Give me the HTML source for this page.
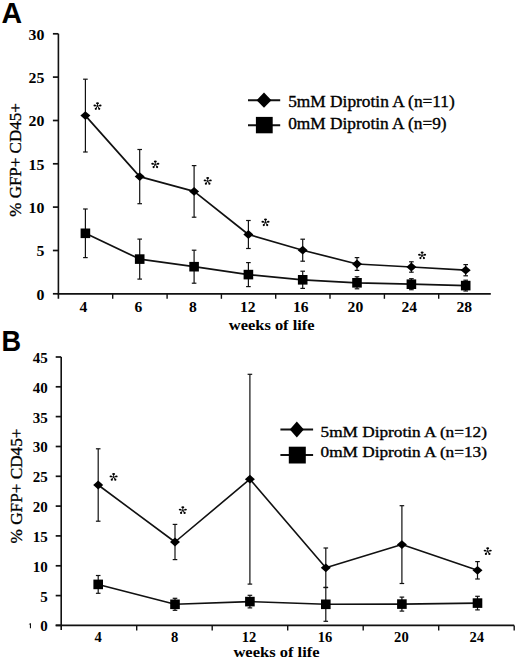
<!DOCTYPE html>
<html><head><meta charset="utf-8"><style>
html,body{margin:0;padding:0;background:#fff;}
svg{display:block;}
</style></head><body>
<svg width="520" height="662" viewBox="0 0 520 662">
<rect width="520" height="662" fill="#fff"/>
<line x1="58.4" y1="33.8" x2="58.4" y2="298.8" stroke="#111" stroke-width="1.6"/>
<line x1="57.6" y1="293.8" x2="490.8" y2="293.8" stroke="#111" stroke-width="1.8"/>
<line x1="52.9" y1="293.8" x2="58.4" y2="293.8" stroke="#111" stroke-width="1.7"/>
<text x="44.3" y="299.6" font-family="Liberation Serif" font-size="14.5" font-weight="bold" text-anchor="end" textLength="7.9" lengthAdjust="spacingAndGlyphs">0</text>
<line x1="52.9" y1="250.5" x2="58.4" y2="250.5" stroke="#111" stroke-width="1.7"/>
<text x="44.3" y="256.3" font-family="Liberation Serif" font-size="14.5" font-weight="bold" text-anchor="end" textLength="7.9" lengthAdjust="spacingAndGlyphs">5</text>
<line x1="52.9" y1="207.1" x2="58.4" y2="207.1" stroke="#111" stroke-width="1.7"/>
<text x="44.3" y="212.9" font-family="Liberation Serif" font-size="14.5" font-weight="bold" text-anchor="end" textLength="15.8" lengthAdjust="spacingAndGlyphs">10</text>
<line x1="52.9" y1="163.8" x2="58.4" y2="163.8" stroke="#111" stroke-width="1.7"/>
<text x="44.3" y="169.6" font-family="Liberation Serif" font-size="14.5" font-weight="bold" text-anchor="end" textLength="15.8" lengthAdjust="spacingAndGlyphs">15</text>
<line x1="52.9" y1="120.5" x2="58.4" y2="120.5" stroke="#111" stroke-width="1.7"/>
<text x="44.3" y="126.3" font-family="Liberation Serif" font-size="14.5" font-weight="bold" text-anchor="end" textLength="15.8" lengthAdjust="spacingAndGlyphs">20</text>
<line x1="52.9" y1="77.1" x2="58.4" y2="77.1" stroke="#111" stroke-width="1.7"/>
<text x="44.3" y="82.9" font-family="Liberation Serif" font-size="14.5" font-weight="bold" text-anchor="end" textLength="15.8" lengthAdjust="spacingAndGlyphs">25</text>
<line x1="52.9" y1="33.8" x2="58.4" y2="33.8" stroke="#111" stroke-width="1.7"/>
<text x="44.3" y="39.6" font-family="Liberation Serif" font-size="14.5" font-weight="bold" text-anchor="end" textLength="15.8" lengthAdjust="spacingAndGlyphs">30</text>
<line x1="112.7" y1="293.8" x2="112.7" y2="298.8" stroke="#111" stroke-width="1.4"/>
<line x1="167.1" y1="293.8" x2="167.1" y2="298.8" stroke="#111" stroke-width="1.4"/>
<line x1="221.4" y1="293.8" x2="221.4" y2="298.8" stroke="#111" stroke-width="1.4"/>
<line x1="275.7" y1="293.8" x2="275.7" y2="298.8" stroke="#111" stroke-width="1.4"/>
<line x1="330" y1="293.8" x2="330" y2="298.8" stroke="#111" stroke-width="1.4"/>
<line x1="384.4" y1="293.8" x2="384.4" y2="298.8" stroke="#111" stroke-width="1.4"/>
<line x1="438.7" y1="293.8" x2="438.7" y2="298.8" stroke="#111" stroke-width="1.4"/>
<text x="83.5" y="312.3" font-family="Liberation Serif" font-size="14.5" font-weight="bold" text-anchor="middle" textLength="7.8" lengthAdjust="spacingAndGlyphs">4</text>
<text x="138.5" y="312.3" font-family="Liberation Serif" font-size="14.5" font-weight="bold" text-anchor="middle" textLength="7.8" lengthAdjust="spacingAndGlyphs">6</text>
<text x="192.8" y="312.3" font-family="Liberation Serif" font-size="14.5" font-weight="bold" text-anchor="middle" textLength="7.8" lengthAdjust="spacingAndGlyphs">8</text>
<text x="247.7" y="312.3" font-family="Liberation Serif" font-size="14.5" font-weight="bold" text-anchor="middle" textLength="15.6" lengthAdjust="spacingAndGlyphs">12</text>
<text x="300.7" y="312.3" font-family="Liberation Serif" font-size="14.5" font-weight="bold" text-anchor="middle" textLength="15.6" lengthAdjust="spacingAndGlyphs">16</text>
<text x="355.4" y="312.3" font-family="Liberation Serif" font-size="14.5" font-weight="bold" text-anchor="middle" textLength="15.6" lengthAdjust="spacingAndGlyphs">20</text>
<text x="409.3" y="312.3" font-family="Liberation Serif" font-size="14.5" font-weight="bold" text-anchor="middle" textLength="15.6" lengthAdjust="spacingAndGlyphs">24</text>
<text x="464.3" y="312.3" font-family="Liberation Serif" font-size="14.5" font-weight="bold" text-anchor="middle" textLength="15.6" lengthAdjust="spacingAndGlyphs">28</text>
<text x="228.8" y="329.8" font-family="Liberation Serif" font-size="14.5" font-weight="bold" text-anchor="start" textLength="85.8" lengthAdjust="spacingAndGlyphs">weeks of life</text>
<text transform="translate(21.3,160) rotate(-90)" x="0" y="0" font-family="Liberation Serif" font-size="16" text-anchor="middle" textLength="113.4" lengthAdjust="spacingAndGlyphs" stroke="#000" stroke-width="0.3">% GFP+ CD45+</text>
<path d="M85.4 233.3 L139.7 259.1 L194.1 266.7 L248.4 274.6 L302.7 279.8 L357 282.8 L411.4 284.2 L465.7 285.6" fill="none" stroke="#111" stroke-width="1.7" stroke-linejoin="round"/>
<path d="M85.4 115.6 L139.7 176.6 L194.1 191.4 L248.4 234.5 L302.7 250.2 L357 264 L411.4 267 L465.7 270.2" fill="none" stroke="#111" stroke-width="1.7" stroke-linejoin="round"/>
<line x1="85.4" y1="209" x2="85.4" y2="257.6" stroke="#111" stroke-width="1.2"/>
<line x1="83.1" y1="209" x2="87.7" y2="209" stroke="#111" stroke-width="1.2"/>
<line x1="83.1" y1="257.6" x2="87.7" y2="257.6" stroke="#111" stroke-width="1.2"/>
<line x1="85.4" y1="79.2" x2="85.4" y2="152" stroke="#111" stroke-width="1.2"/>
<line x1="83.1" y1="79.2" x2="87.7" y2="79.2" stroke="#111" stroke-width="1.2"/>
<line x1="83.1" y1="152" x2="87.7" y2="152" stroke="#111" stroke-width="1.2"/>
<line x1="139.7" y1="239.1" x2="139.7" y2="279.1" stroke="#111" stroke-width="1.2"/>
<line x1="137.4" y1="239.1" x2="142" y2="239.1" stroke="#111" stroke-width="1.2"/>
<line x1="137.4" y1="279.1" x2="142" y2="279.1" stroke="#111" stroke-width="1.2"/>
<line x1="139.7" y1="149.5" x2="139.7" y2="203.7" stroke="#111" stroke-width="1.2"/>
<line x1="137.4" y1="149.5" x2="142" y2="149.5" stroke="#111" stroke-width="1.2"/>
<line x1="137.4" y1="203.7" x2="142" y2="203.7" stroke="#111" stroke-width="1.2"/>
<line x1="194.1" y1="250.2" x2="194.1" y2="283.2" stroke="#111" stroke-width="1.2"/>
<line x1="191.8" y1="250.2" x2="196.4" y2="250.2" stroke="#111" stroke-width="1.2"/>
<line x1="191.8" y1="283.2" x2="196.4" y2="283.2" stroke="#111" stroke-width="1.2"/>
<line x1="194.1" y1="165.6" x2="194.1" y2="217.2" stroke="#111" stroke-width="1.2"/>
<line x1="191.8" y1="165.6" x2="196.4" y2="165.6" stroke="#111" stroke-width="1.2"/>
<line x1="191.8" y1="217.2" x2="196.4" y2="217.2" stroke="#111" stroke-width="1.2"/>
<line x1="248.4" y1="262.6" x2="248.4" y2="286.6" stroke="#111" stroke-width="1.2"/>
<line x1="246.1" y1="262.6" x2="250.7" y2="262.6" stroke="#111" stroke-width="1.2"/>
<line x1="246.1" y1="286.6" x2="250.7" y2="286.6" stroke="#111" stroke-width="1.2"/>
<line x1="248.4" y1="220.5" x2="248.4" y2="248.5" stroke="#111" stroke-width="1.2"/>
<line x1="246.1" y1="220.5" x2="250.7" y2="220.5" stroke="#111" stroke-width="1.2"/>
<line x1="246.1" y1="248.5" x2="250.7" y2="248.5" stroke="#111" stroke-width="1.2"/>
<line x1="302.7" y1="271.2" x2="302.7" y2="288.4" stroke="#111" stroke-width="1.2"/>
<line x1="300.4" y1="271.2" x2="305" y2="271.2" stroke="#111" stroke-width="1.2"/>
<line x1="300.4" y1="288.4" x2="305" y2="288.4" stroke="#111" stroke-width="1.2"/>
<line x1="302.7" y1="239.2" x2="302.7" y2="261.2" stroke="#111" stroke-width="1.2"/>
<line x1="300.4" y1="239.2" x2="305" y2="239.2" stroke="#111" stroke-width="1.2"/>
<line x1="300.4" y1="261.2" x2="305" y2="261.2" stroke="#111" stroke-width="1.2"/>
<line x1="357" y1="276.8" x2="357" y2="288.8" stroke="#111" stroke-width="1.2"/>
<line x1="354.7" y1="276.8" x2="359.3" y2="276.8" stroke="#111" stroke-width="1.2"/>
<line x1="354.7" y1="288.8" x2="359.3" y2="288.8" stroke="#111" stroke-width="1.2"/>
<line x1="357" y1="257.6" x2="357" y2="270.4" stroke="#111" stroke-width="1.2"/>
<line x1="354.7" y1="257.6" x2="359.3" y2="257.6" stroke="#111" stroke-width="1.2"/>
<line x1="354.7" y1="270.4" x2="359.3" y2="270.4" stroke="#111" stroke-width="1.2"/>
<line x1="411.4" y1="278.7" x2="411.4" y2="289.7" stroke="#111" stroke-width="1.2"/>
<line x1="409.1" y1="278.7" x2="413.7" y2="278.7" stroke="#111" stroke-width="1.2"/>
<line x1="409.1" y1="289.7" x2="413.7" y2="289.7" stroke="#111" stroke-width="1.2"/>
<line x1="411.4" y1="261.8" x2="411.4" y2="272.2" stroke="#111" stroke-width="1.2"/>
<line x1="409.1" y1="261.8" x2="413.7" y2="261.8" stroke="#111" stroke-width="1.2"/>
<line x1="409.1" y1="272.2" x2="413.7" y2="272.2" stroke="#111" stroke-width="1.2"/>
<line x1="465.7" y1="280.2" x2="465.7" y2="291" stroke="#111" stroke-width="1.2"/>
<line x1="463.4" y1="280.2" x2="468" y2="280.2" stroke="#111" stroke-width="1.2"/>
<line x1="463.4" y1="291" x2="468" y2="291" stroke="#111" stroke-width="1.2"/>
<line x1="465.7" y1="264.6" x2="465.7" y2="275.8" stroke="#111" stroke-width="1.2"/>
<line x1="463.4" y1="264.6" x2="468" y2="264.6" stroke="#111" stroke-width="1.2"/>
<line x1="463.4" y1="275.8" x2="468" y2="275.8" stroke="#111" stroke-width="1.2"/>
<rect x="80.6" y="228.5" width="9.6" height="9.6" fill="#000"/>
<path d="M85.4 111.2L90.4 115.6L85.4 120L80.4 115.6Z" fill="#000"/>
<rect x="134.9" y="254.3" width="9.6" height="9.6" fill="#000"/>
<path d="M139.7 172.2L144.7 176.6L139.7 181L134.7 176.6Z" fill="#000"/>
<rect x="189.3" y="261.9" width="9.6" height="9.6" fill="#000"/>
<path d="M194.1 187L199.1 191.4L194.1 195.8L189.1 191.4Z" fill="#000"/>
<rect x="243.6" y="269.8" width="9.6" height="9.6" fill="#000"/>
<path d="M248.4 230.1L253.4 234.5L248.4 238.9L243.4 234.5Z" fill="#000"/>
<rect x="297.9" y="275" width="9.6" height="9.6" fill="#000"/>
<path d="M302.7 245.8L307.7 250.2L302.7 254.6L297.7 250.2Z" fill="#000"/>
<rect x="352.2" y="278" width="9.6" height="9.6" fill="#000"/>
<path d="M357 259.6L362 264L357 268.4L352 264Z" fill="#000"/>
<rect x="406.6" y="279.4" width="9.6" height="9.6" fill="#000"/>
<path d="M411.4 262.6L416.4 267L411.4 271.4L406.4 267Z" fill="#000"/>
<rect x="460.9" y="280.8" width="9.6" height="9.6" fill="#000"/>
<path d="M465.7 265.8L470.7 270.2L465.7 274.6L460.7 270.2Z" fill="#000"/>
<path d="M97.5 106.2l0 -3.1M97.5 106.2l-2.8 -0.8M97.5 106.2l2.8 -0.8M97.5 106.2l-1.8 2.5M97.5 106.2l1.8 2.5" stroke="#000" stroke-width="0.9" fill="none"/>
<ellipse cx="97.5" cy="103.2" rx="1.5" ry="1.0" fill="#000"/>
<ellipse cx="94.7" cy="105.5" rx="1.25" ry="0.95" fill="#000"/>
<ellipse cx="100.3" cy="105.5" rx="1.25" ry="0.95" fill="#000"/>
<ellipse cx="95.8" cy="108.8" rx="1.1" ry="1.1" fill="#000"/>
<ellipse cx="99.2" cy="108.8" rx="1.1" ry="1.1" fill="#000"/>
<path d="M155.3 164.5l0 -3.1M155.3 164.5l-2.8 -0.8M155.3 164.5l2.8 -0.8M155.3 164.5l-1.8 2.5M155.3 164.5l1.8 2.5" stroke="#000" stroke-width="0.9" fill="none"/>
<ellipse cx="155.3" cy="161.4" rx="1.5" ry="1.0" fill="#000"/>
<ellipse cx="152.5" cy="163.8" rx="1.25" ry="0.95" fill="#000"/>
<ellipse cx="158.1" cy="163.8" rx="1.25" ry="0.95" fill="#000"/>
<ellipse cx="153.6" cy="167.1" rx="1.1" ry="1.1" fill="#000"/>
<ellipse cx="157.1" cy="167.1" rx="1.1" ry="1.1" fill="#000"/>
<path d="M207.7 181.2l0 -3.1M207.7 181.2l-2.8 -0.8M207.7 181.2l2.8 -0.8M207.7 181.2l-1.8 2.5M207.7 181.2l1.8 2.5" stroke="#000" stroke-width="0.9" fill="none"/>
<ellipse cx="207.7" cy="178.1" rx="1.5" ry="1.0" fill="#000"/>
<ellipse cx="204.9" cy="180.4" rx="1.25" ry="0.95" fill="#000"/>
<ellipse cx="210.5" cy="180.4" rx="1.25" ry="0.95" fill="#000"/>
<ellipse cx="205.9" cy="183.7" rx="1.1" ry="1.1" fill="#000"/>
<ellipse cx="209.4" cy="183.7" rx="1.1" ry="1.1" fill="#000"/>
<path d="M265.5 222.5l0 -3.1M265.5 222.5l-2.8 -0.8M265.5 222.5l2.8 -0.8M265.5 222.5l-1.8 2.5M265.5 222.5l1.8 2.5" stroke="#000" stroke-width="0.9" fill="none"/>
<ellipse cx="265.5" cy="219.4" rx="1.5" ry="1.0" fill="#000"/>
<ellipse cx="262.7" cy="221.8" rx="1.25" ry="0.95" fill="#000"/>
<ellipse cx="268.3" cy="221.8" rx="1.25" ry="0.95" fill="#000"/>
<ellipse cx="263.8" cy="225.1" rx="1.1" ry="1.1" fill="#000"/>
<ellipse cx="267.2" cy="225.1" rx="1.1" ry="1.1" fill="#000"/>
<path d="M422.1 255.5l0 -3.1M422.1 255.5l-2.8 -0.8M422.1 255.5l2.8 -0.8M422.1 255.5l-1.8 2.5M422.1 255.5l1.8 2.5" stroke="#000" stroke-width="0.9" fill="none"/>
<ellipse cx="422.1" cy="252.4" rx="1.5" ry="1.0" fill="#000"/>
<ellipse cx="419.3" cy="254.8" rx="1.25" ry="0.95" fill="#000"/>
<ellipse cx="424.9" cy="254.8" rx="1.25" ry="0.95" fill="#000"/>
<ellipse cx="420.4" cy="258.1" rx="1.1" ry="1.1" fill="#000"/>
<ellipse cx="423.9" cy="258.1" rx="1.1" ry="1.1" fill="#000"/>
<line x1="248" y1="100.2" x2="280.2" y2="100.2" stroke="#111" stroke-width="2"/>
<path d="M264 92.6L271.4 100.2L264 107.8L256.6 100.2Z" fill="#000"/>
<line x1="248" y1="125.2" x2="280.2" y2="125.2" stroke="#111" stroke-width="2"/>
<rect x="255.9" y="116.9" width="16.8" height="16.4" fill="#000"/>
<text x="288.2" y="107.1" font-family="Liberation Serif" font-size="16" font-weight="normal" text-anchor="start" textLength="166.6" lengthAdjust="spacingAndGlyphs" stroke="#000" stroke-width="0.35">5mM Diprotin A (n=11)</text>
<text x="288.2" y="128.5" font-family="Liberation Serif" font-size="16" font-weight="normal" text-anchor="start" textLength="158.4" lengthAdjust="spacingAndGlyphs" stroke="#000" stroke-width="0.35">0mM Diprotin A (n=9)</text>
<text x="1.6" y="23.2" font-family="Liberation Sans" font-size="30" font-weight="bold" text-anchor="start" textLength="20.6" lengthAdjust="spacingAndGlyphs">A</text>
<line x1="61.2" y1="357" x2="61.2" y2="629.9" stroke="#111" stroke-width="1.6"/>
<line x1="55.7" y1="625.4" x2="514.2" y2="625.4" stroke="#111" stroke-width="1.8"/>
<line x1="514.2" y1="625.4" x2="514.2" y2="630.4" stroke="#111" stroke-width="1.4"/>
<line x1="55.7" y1="625.4" x2="61.2" y2="625.4" stroke="#111" stroke-width="1.7"/>
<text x="47.8" y="631.3" font-family="Liberation Serif" font-size="14" font-weight="bold" text-anchor="end" textLength="7.5" lengthAdjust="spacingAndGlyphs">0</text>
<line x1="55.7" y1="595.6" x2="61.2" y2="595.6" stroke="#111" stroke-width="1.7"/>
<text x="47.8" y="601.5" font-family="Liberation Serif" font-size="14" font-weight="bold" text-anchor="end" textLength="7.5" lengthAdjust="spacingAndGlyphs">5</text>
<line x1="55.7" y1="565.8" x2="61.2" y2="565.8" stroke="#111" stroke-width="1.7"/>
<text x="47.8" y="571.7" font-family="Liberation Serif" font-size="14" font-weight="bold" text-anchor="end" textLength="15" lengthAdjust="spacingAndGlyphs">10</text>
<line x1="55.7" y1="535.9" x2="61.2" y2="535.9" stroke="#111" stroke-width="1.7"/>
<text x="47.8" y="541.8" font-family="Liberation Serif" font-size="14" font-weight="bold" text-anchor="end" textLength="15" lengthAdjust="spacingAndGlyphs">15</text>
<line x1="55.7" y1="506.1" x2="61.2" y2="506.1" stroke="#111" stroke-width="1.7"/>
<text x="47.8" y="512" font-family="Liberation Serif" font-size="14" font-weight="bold" text-anchor="end" textLength="15" lengthAdjust="spacingAndGlyphs">20</text>
<line x1="55.7" y1="476.3" x2="61.2" y2="476.3" stroke="#111" stroke-width="1.7"/>
<text x="47.8" y="482.2" font-family="Liberation Serif" font-size="14" font-weight="bold" text-anchor="end" textLength="15" lengthAdjust="spacingAndGlyphs">25</text>
<line x1="55.7" y1="446.5" x2="61.2" y2="446.5" stroke="#111" stroke-width="1.7"/>
<text x="47.8" y="452.4" font-family="Liberation Serif" font-size="14" font-weight="bold" text-anchor="end" textLength="15" lengthAdjust="spacingAndGlyphs">30</text>
<line x1="55.7" y1="416.6" x2="61.2" y2="416.6" stroke="#111" stroke-width="1.7"/>
<text x="47.8" y="422.5" font-family="Liberation Serif" font-size="14" font-weight="bold" text-anchor="end" textLength="15" lengthAdjust="spacingAndGlyphs">35</text>
<line x1="55.7" y1="386.8" x2="61.2" y2="386.8" stroke="#111" stroke-width="1.7"/>
<text x="47.8" y="392.7" font-family="Liberation Serif" font-size="14" font-weight="bold" text-anchor="end" textLength="15" lengthAdjust="spacingAndGlyphs">40</text>
<line x1="55.7" y1="357" x2="61.2" y2="357" stroke="#111" stroke-width="1.7"/>
<text x="47.8" y="362.9" font-family="Liberation Serif" font-size="14" font-weight="bold" text-anchor="end" textLength="15" lengthAdjust="spacingAndGlyphs">45</text>
<line x1="136.7" y1="625.4" x2="136.7" y2="630.4" stroke="#111" stroke-width="1.4"/>
<line x1="212.2" y1="625.4" x2="212.2" y2="630.4" stroke="#111" stroke-width="1.4"/>
<line x1="287.7" y1="625.4" x2="287.7" y2="630.4" stroke="#111" stroke-width="1.4"/>
<line x1="363.2" y1="625.4" x2="363.2" y2="630.4" stroke="#111" stroke-width="1.4"/>
<line x1="438.7" y1="625.4" x2="438.7" y2="630.4" stroke="#111" stroke-width="1.4"/>
<text x="98.2" y="642.2" font-family="Liberation Serif" font-size="14.5" font-weight="bold" text-anchor="middle" textLength="7.3" lengthAdjust="spacingAndGlyphs">4</text>
<text x="174.6" y="642.2" font-family="Liberation Serif" font-size="14.5" font-weight="bold" text-anchor="middle" textLength="7.3" lengthAdjust="spacingAndGlyphs">8</text>
<text x="249" y="642.2" font-family="Liberation Serif" font-size="14.5" font-weight="bold" text-anchor="middle" textLength="14.6" lengthAdjust="spacingAndGlyphs">12</text>
<text x="325" y="642.2" font-family="Liberation Serif" font-size="14.5" font-weight="bold" text-anchor="middle" textLength="14.6" lengthAdjust="spacingAndGlyphs">16</text>
<text x="401.4" y="642.2" font-family="Liberation Serif" font-size="14.5" font-weight="bold" text-anchor="middle" textLength="14.6" lengthAdjust="spacingAndGlyphs">20</text>
<text x="476.7" y="642.2" font-family="Liberation Serif" font-size="14.5" font-weight="bold" text-anchor="middle" textLength="14.6" lengthAdjust="spacingAndGlyphs">24</text>
<text x="233.4" y="657.4" font-family="Liberation Serif" font-size="14.5" font-weight="bold" text-anchor="start" textLength="86.2" lengthAdjust="spacingAndGlyphs">weeks of life</text>
<text transform="translate(22.3,486) rotate(-90)" x="0" y="0" font-family="Liberation Serif" font-size="16" text-anchor="middle" textLength="114.8" lengthAdjust="spacingAndGlyphs" stroke="#000" stroke-width="0.3">% GFP+ CD45+</text>
<path d="M98.2 584.4 L175 604.3 L249.9 601.6 L325.8 604.3 L401.9 604.1 L477.5 603.1" fill="none" stroke="#111" stroke-width="1.6" stroke-linejoin="round"/>
<path d="M98.2 485 L175 542 L249.9 479.2 L325.8 567.8 L401.9 544.6 L477.5 570.3" fill="none" stroke="#111" stroke-width="1.6" stroke-linejoin="round"/>
<line x1="98.2" y1="575.5" x2="98.2" y2="593.3" stroke="#111" stroke-width="1.2"/>
<line x1="95.9" y1="575.5" x2="100.5" y2="575.5" stroke="#111" stroke-width="1.2"/>
<line x1="95.9" y1="593.3" x2="100.5" y2="593.3" stroke="#111" stroke-width="1.2"/>
<line x1="98.2" y1="448.8" x2="98.2" y2="521.2" stroke="#111" stroke-width="1.2"/>
<line x1="95.9" y1="448.8" x2="100.5" y2="448.8" stroke="#111" stroke-width="1.2"/>
<line x1="95.9" y1="521.2" x2="100.5" y2="521.2" stroke="#111" stroke-width="1.2"/>
<line x1="175" y1="598.3" x2="175" y2="610.3" stroke="#111" stroke-width="1.2"/>
<line x1="172.7" y1="598.3" x2="177.3" y2="598.3" stroke="#111" stroke-width="1.2"/>
<line x1="172.7" y1="610.3" x2="177.3" y2="610.3" stroke="#111" stroke-width="1.2"/>
<line x1="175" y1="524.4" x2="175" y2="559.6" stroke="#111" stroke-width="1.2"/>
<line x1="172.7" y1="524.4" x2="177.3" y2="524.4" stroke="#111" stroke-width="1.2"/>
<line x1="172.7" y1="559.6" x2="177.3" y2="559.6" stroke="#111" stroke-width="1.2"/>
<line x1="249.9" y1="595.3" x2="249.9" y2="607.9" stroke="#111" stroke-width="1.2"/>
<line x1="247.6" y1="595.3" x2="252.2" y2="595.3" stroke="#111" stroke-width="1.2"/>
<line x1="247.6" y1="607.9" x2="252.2" y2="607.9" stroke="#111" stroke-width="1.2"/>
<line x1="249.9" y1="374.3" x2="249.9" y2="584.1" stroke="#111" stroke-width="1.2"/>
<line x1="247.6" y1="374.3" x2="252.2" y2="374.3" stroke="#111" stroke-width="1.2"/>
<line x1="247.6" y1="584.1" x2="252.2" y2="584.1" stroke="#111" stroke-width="1.2"/>
<line x1="325.8" y1="587.3" x2="325.8" y2="621.3" stroke="#111" stroke-width="1.2"/>
<line x1="323.5" y1="587.3" x2="328.1" y2="587.3" stroke="#111" stroke-width="1.2"/>
<line x1="323.5" y1="621.3" x2="328.1" y2="621.3" stroke="#111" stroke-width="1.2"/>
<line x1="325.8" y1="548" x2="325.8" y2="587.6" stroke="#111" stroke-width="1.2"/>
<line x1="323.5" y1="548" x2="328.1" y2="548" stroke="#111" stroke-width="1.2"/>
<line x1="323.5" y1="587.6" x2="328.1" y2="587.6" stroke="#111" stroke-width="1.2"/>
<line x1="401.9" y1="597.1" x2="401.9" y2="611.1" stroke="#111" stroke-width="1.2"/>
<line x1="399.6" y1="597.1" x2="404.2" y2="597.1" stroke="#111" stroke-width="1.2"/>
<line x1="399.6" y1="611.1" x2="404.2" y2="611.1" stroke="#111" stroke-width="1.2"/>
<line x1="401.9" y1="505.7" x2="401.9" y2="583.5" stroke="#111" stroke-width="1.2"/>
<line x1="399.6" y1="505.7" x2="404.2" y2="505.7" stroke="#111" stroke-width="1.2"/>
<line x1="399.6" y1="583.5" x2="404.2" y2="583.5" stroke="#111" stroke-width="1.2"/>
<line x1="477.5" y1="596.3" x2="477.5" y2="609.9" stroke="#111" stroke-width="1.2"/>
<line x1="475.2" y1="596.3" x2="479.8" y2="596.3" stroke="#111" stroke-width="1.2"/>
<line x1="475.2" y1="609.9" x2="479.8" y2="609.9" stroke="#111" stroke-width="1.2"/>
<line x1="477.5" y1="561.6" x2="477.5" y2="579" stroke="#111" stroke-width="1.2"/>
<line x1="475.2" y1="561.6" x2="479.8" y2="561.6" stroke="#111" stroke-width="1.2"/>
<line x1="475.2" y1="579" x2="479.8" y2="579" stroke="#111" stroke-width="1.2"/>
<rect x="93.4" y="579.6" width="9.6" height="9.6" fill="#000"/>
<path d="M98.2 480.6L103.2 485L98.2 489.4L93.2 485Z" fill="#000"/>
<rect x="170.2" y="599.5" width="9.6" height="9.6" fill="#000"/>
<path d="M175 537.6L180 542L175 546.4L170 542Z" fill="#000"/>
<rect x="245.1" y="596.8" width="9.6" height="9.6" fill="#000"/>
<path d="M249.9 474.8L254.9 479.2L249.9 483.6L244.9 479.2Z" fill="#000"/>
<rect x="321" y="599.5" width="9.6" height="9.6" fill="#000"/>
<path d="M325.8 563.4L330.8 567.8L325.8 572.2L320.8 567.8Z" fill="#000"/>
<rect x="397.1" y="599.3" width="9.6" height="9.6" fill="#000"/>
<path d="M401.9 540.2L406.9 544.6L401.9 549L396.9 544.6Z" fill="#000"/>
<rect x="472.7" y="598.3" width="9.6" height="9.6" fill="#000"/>
<path d="M477.5 565.9L482.5 570.3L477.5 574.7L472.5 570.3Z" fill="#000"/>
<path d="M113.6 477.2l0 -3.1M113.6 477.2l-2.8 -0.8M113.6 477.2l2.8 -0.8M113.6 477.2l-1.8 2.5M113.6 477.2l1.8 2.5" stroke="#000" stroke-width="0.9" fill="none"/>
<ellipse cx="113.6" cy="474.1" rx="1.5" ry="1.0" fill="#000"/>
<ellipse cx="110.8" cy="476.4" rx="1.25" ry="0.95" fill="#000"/>
<ellipse cx="116.4" cy="476.4" rx="1.25" ry="0.95" fill="#000"/>
<ellipse cx="111.8" cy="479.7" rx="1.1" ry="1.1" fill="#000"/>
<ellipse cx="115.3" cy="479.7" rx="1.1" ry="1.1" fill="#000"/>
<path d="M182.8 510.4l0 -3.1M182.8 510.4l-2.8 -0.8M182.8 510.4l2.8 -0.8M182.8 510.4l-1.8 2.5M182.8 510.4l1.8 2.5" stroke="#000" stroke-width="0.9" fill="none"/>
<ellipse cx="182.8" cy="507.2" rx="1.5" ry="1.0" fill="#000"/>
<ellipse cx="180" cy="509.6" rx="1.25" ry="0.95" fill="#000"/>
<ellipse cx="185.6" cy="509.6" rx="1.25" ry="0.95" fill="#000"/>
<ellipse cx="181.1" cy="512.9" rx="1.1" ry="1.1" fill="#000"/>
<ellipse cx="184.6" cy="512.9" rx="1.1" ry="1.1" fill="#000"/>
<path d="M487.7 551.4l0 -3.1M487.7 551.4l-2.8 -0.8M487.7 551.4l2.8 -0.8M487.7 551.4l-1.8 2.5M487.7 551.4l1.8 2.5" stroke="#000" stroke-width="0.9" fill="none"/>
<ellipse cx="487.7" cy="548.2" rx="1.5" ry="1.0" fill="#000"/>
<ellipse cx="484.9" cy="550.6" rx="1.25" ry="0.95" fill="#000"/>
<ellipse cx="490.5" cy="550.6" rx="1.25" ry="0.95" fill="#000"/>
<ellipse cx="485.9" cy="553.9" rx="1.1" ry="1.1" fill="#000"/>
<ellipse cx="489.4" cy="553.9" rx="1.1" ry="1.1" fill="#000"/>
<line x1="280.4" y1="429.4" x2="313.1" y2="429.4" stroke="#111" stroke-width="2"/>
<path d="M296.8 421.6L303.8 429.6L296.8 437.6L289.8 429.6Z" fill="#000"/>
<line x1="280.4" y1="455" x2="313.1" y2="455" stroke="#111" stroke-width="2"/>
<rect x="288.8" y="446.7" width="17" height="16.8" fill="#000"/>
<text x="320.5" y="437" font-family="Liberation Serif" font-size="15.5" font-weight="normal" text-anchor="start" textLength="166.5" lengthAdjust="spacingAndGlyphs" stroke="#000" stroke-width="0.35">5mM Diprotin A (n=12)</text>
<text x="320.5" y="457" font-family="Liberation Serif" font-size="15.5" font-weight="normal" text-anchor="start" textLength="166.5" lengthAdjust="spacingAndGlyphs" stroke="#000" stroke-width="0.35">0mM Diprotin A (n=13)</text>
<text x="1.6" y="350.9" font-family="Liberation Sans" font-size="28.6" font-weight="bold" text-anchor="start" textLength="19.6" lengthAdjust="spacingAndGlyphs">B</text>
<path d="M28.6 624.2L30.2 623.2L31 623.2L31 628.3L29.9 628.3L29.9 624.6Z" fill="#111"/>
</svg>
</body></html>
